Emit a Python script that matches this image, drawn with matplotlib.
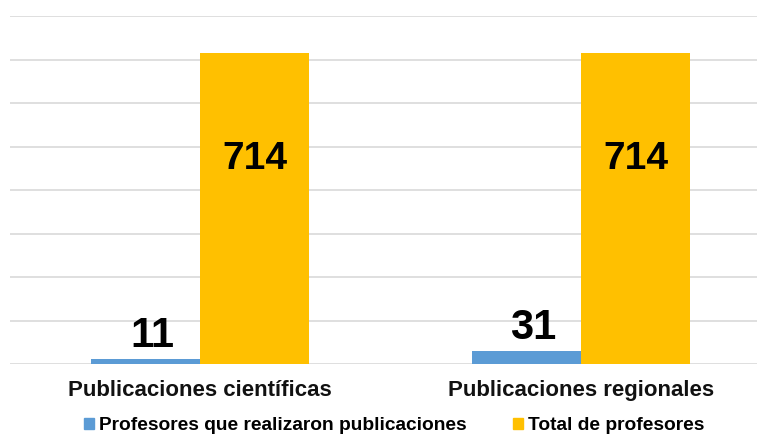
import matplotlib
matplotlib.use("Agg")
import matplotlib.pyplot as plt
from matplotlib.patches import Patch
import numpy as np

categories = ["Publicaciones científicas", "Publicaciones regionales"]
series_names = ["Profesores que realizaron publicaciones", "Total de profesores"]
profesores_pub = [11, 31]
total_prof = [714, 714]
colors = ["#5B9BD5", "#FFC000"]

W, H = 757, 437
fig = plt.figure(figsize=(W / 100, H / 100), dpi=100)
plt.rcParams['font.family'] = ['Liberation Sans', 'DejaVu Sans']

left_px, right_px, top_px, bottom_px = 9.5, 757, 16, 364
ax = fig.add_axes([left_px / W, 1 - bottom_px / H, (right_px - left_px) / W, (bottom_px - top_px) / H])

x = np.arange(len(categories))
bw = 0.286
ax.bar(x - bw / 2, profesores_pub, bw, color=colors[0], zorder=3)
ax.bar(x + bw / 2, total_prof, bw, color=colors[1], zorder=3)

ax.set_ylim(0, 800)
ax.set_xlim(-0.5, (right_px - 200) / 381)
ax.set_yticks(np.arange(0, 801, 100))
ax.yaxis.grid(True, color="#D9D9D9", linewidth=1.2, zorder=0)
ax.set_axisbelow(True)
ax.tick_params(left=False, labelleft=False, bottom=False, labelbottom=False)
for s in ax.spines.values():
    s.set_visible(False)

for xi, v in zip(x, profesores_pub):
    ax.annotate(str(v), (xi - bw / 2, v), xytext=(5, 2), textcoords="offset points",
                ha="center", va="bottom", fontsize=30, fontweight="bold", color="black")
for xi, v in zip(x, total_prof):
    ax.annotate(str(v), (xi + bw / 2, v), xytext=(0, -76), textcoords="offset points",
                ha="center", va="center", fontsize=28, fontweight="bold", color="black")

for xi, c in zip(x, categories):
    ax.annotate(c, (xi, 0), xytext=(0, -19), textcoords="offset points",
                ha="center", va="center", fontsize=16, fontweight="bold", color="#111111")

handles = [Patch(color=colors[0]), Patch(color=colors[1])]
fig.legend(handles, series_names, loc="center", bbox_to_anchor=(394 / W, 1 - 426 / H), ncol=2,
           frameon=False, prop={"size": 13.8, "weight": "bold"}, handlelength=0.52, handleheight=0.52,
           handletextpad=0.26, columnspacing=2.4, borderpad=0, borderaxespad=0)

fig.savefig("out.png", dpi=100)
